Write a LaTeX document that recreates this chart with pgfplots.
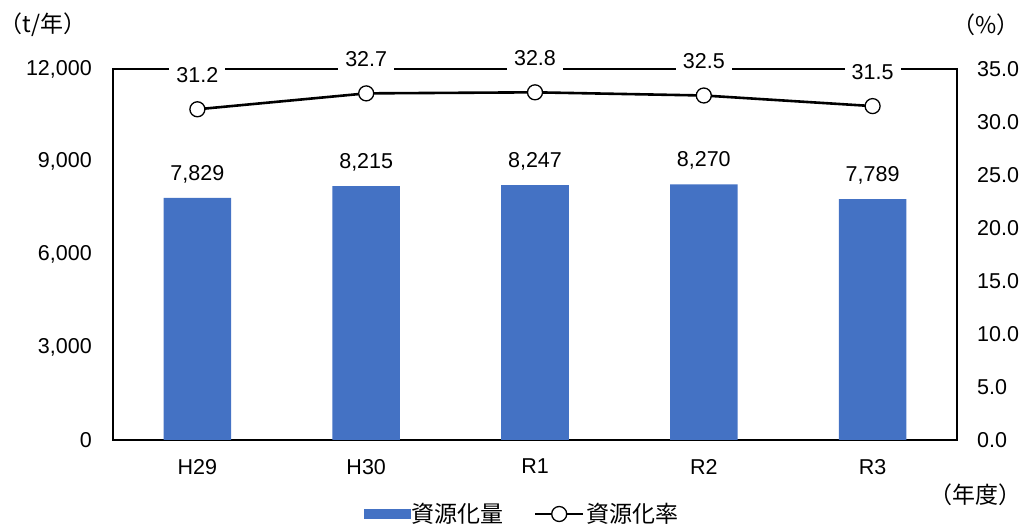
\documentclass[border=0pt]{standalone}
\usepackage{pgfplots}
\pgfplotsset{compat=1.18}
\usepackage{fontspec}
\setmainfont{Liberation Sans}
\newfontfamily\cjk{Noto Sans CJK JP}
\definecolor{barblue}{HTML}{4472C4}
\newcommand\numfont{\fontsize{21.5bp}{25bp}\selectfont}
\begin{document}
\begin{tikzpicture}[font=\numfont]
\useasboundingbox (0,0) rectangle (1022bp,524bp);
\begin{axis}[
  at={(113bp,84bp)}, anchor=south west,
  scale only axis, width=844bp, height=371bp,
  xmin=-0.5, xmax=4.5, ymin=0, ymax=12000,
  xtick={0,1,2,3,4}, xticklabels={H29,H30,R1,R2,R3},
  ytick={0,3000,6000,9000,12000},
  major tick length=0pt,
  tick label style={font=\numfont},
  axis line style={black, line width=1.3bp},
  /pgf/number format/assume math mode=true,
  /pgf/number format/.cd, 1000 sep={,}, /pgfplots/.cd,
  xticklabel style={anchor=north, inner sep=0pt, yshift=-19bp},
  yticklabel style={anchor=east, inner sep=0pt, xshift=-21bp},
  scaled y ticks=false,
  nodes near coords,
  nodes near coords style={font=\numfont, anchor=south, inner sep=0pt, yshift=15bp,
     /pgf/number format/.cd, 1000 sep={,}, assume math mode=true},
]
\addplot[ybar, bar width=0.4, fill=barblue, draw=none] coordinates {
 (0,7829) (1,8215) (2,8247) (3,8270) (4,7789)};
\end{axis}
\begin{axis}[
  at={(113bp,84bp)}, anchor=south west,
  scale only axis, width=844bp, height=371bp,
  xmin=-0.5, xmax=4.5, ymin=0, ymax=35,
  axis x line=none,
  axis y line*=right,
  ytick={0,5,10,15,20,25,30,35},
  major tick length=0pt,
  tick label style={font=\numfont},
  axis line style={black, line width=1.3bp, -},
  /pgf/number format/assume math mode=true,
  /pgf/number format/.cd, fixed, fixed zerofill, precision=1, /pgfplots/.cd,
  yticklabel style={anchor=west, inner sep=0pt, xshift=20bp},
  legend style={at={(409bp,-74bp)}, anchor=center, draw=none, fill=none,
     legend columns=2, font=\fontsize{23bp}{26bp}\selectfont\cjk,
     /tikz/every even column/.append style={column sep=28bp}},
  legend cell align=left,
]
\addlegendimage{legend image code/.code={\fill[barblue] (0bp,-4.5bp) rectangle (46bp,4.5bp);}}
\addlegendentry{資源化量}
\addplot[black, line width=2.6bp, mark=*, mark size=7.5bp,
  mark options={fill=white, line width=1.3bp},
  nodes near coords,
  nodes near coords style={font=\numfont, anchor=south, fill=white, inner xsep=7bp, inner ysep=4bp, yshift=22bp,
     /pgf/number format/.cd, fixed, fixed zerofill, precision=1, assume math mode=true},
  legend image code/.code={\draw[black, line width=2.6bp] (0bp,0bp) -- (48bp,0bp);
     \draw[black, fill=white, line width=1.3bp] (24bp,0bp) circle (7.5bp);}]
 coordinates {(0,31.2) (1,32.7) (2,32.8) (3,32.5) (4,31.5)};
\addlegendentry{資源化率}
\end{axis}
\node at (43bp,499bp) {\fontsize{23bp}{26bp}\selectfont\cjk （t/年）};
\node at (986bp,499bp) {\fontsize{23bp}{26bp}\selectfont\cjk （\%）};
\node at (975bp,29bp) {\fontsize{23bp}{26bp}\selectfont\cjk （年度）};
\end{tikzpicture}
\end{document}
